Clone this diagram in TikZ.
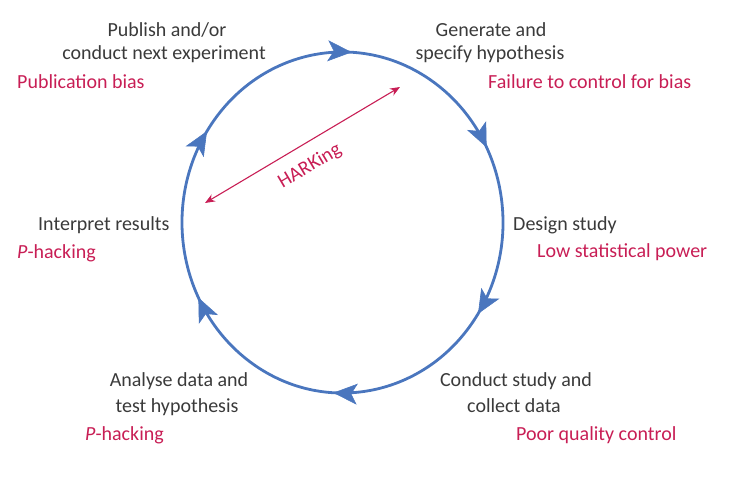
\documentclass[tikz,border=0pt]{standalone}
\usepackage{fontspec}
\setmainfont{Carlito}
\usetikzlibrary{arrows.meta,decorations.markings}
\definecolor{cycleblue}{RGB}{74,118,190}
\definecolor{biasred}{RGB}{200,30,85}
\definecolor{stagegray}{RGB}{58,58,58}
\begin{document}
\begin{tikzpicture}[x=1pt,y=1pt,
  stagetext/.style={text=stagegray, font=\fontsize{20}{24}\selectfont, inner sep=0pt, anchor=base},
  stageleft/.style={stagetext, anchor=base west},
  biastext/.style={text=biasred, font=\fontsize{20}{24}\selectfont, inner sep=0pt, anchor=base west},
  cycleline/.style={draw=cycleblue, color=cycleblue, line width=2.8pt,
    postaction=decorate,
    decoration={markings,
      mark=between positions 0.0833 and 0.99 step 0.16667 with
        {\arrow{Stealth[length=24pt,width=21pt,inset=6pt,line width=0.6pt]}}}},
  harkline/.style={draw=biasred, line width=1.1pt,
    {Stealth[length=10pt,width=8pt]}-{Stealth[length=10pt,width=8pt]}}
]
\useasboundingbox (0,0) rectangle (738,496);

\coordinate (ellc) at (342.5,273.5);
\draw[cycleline] (ellc) ++(56:160.5pt and 170.5pt)
  arc[start angle=56, end angle=-304, x radius=160.5pt, y radius=170.5pt];

% stages
\node[stagetext] (publish1) at (167,459) {Publish and/or};
\node[stagetext] (publish2) at (164,436) {conduct next experiment};
\node[biastext]  (pubbias)  at (17,407) {Publication bias};

\node[stagetext] (generate1) at (491,459) {Generate and};
\node[stagetext] (generate2) at (490,436) {specify hypothesis};
\node[biastext]  (failbias)  at (488,407) {Failure to control for bias};

\node[stageleft] (design)   at (513,266) {Design study};
\node[biastext]  (lowpower) at (537,239) {Low statistical power};

\node[stagetext] (conduct1) at (516,110) {Conduct study and};
\node[stagetext] (conduct2) at (514,84) {collect data};
\node[biastext]  (poorqc)   at (516,56) {Poor quality control};

\node[stagetext] (analyse1) at (179,110) {Analyse data and};
\node[stagetext] (analyse2) at (177,84) {test hypothesis};
\node[biastext]  (phack2)   at (85,56) {\textit{P}-hacking};

\node[stageleft] (interpret) at (38,266) {Interpret results};
\node[biastext]  (phack1)    at (17,238) {\textit{P}-hacking};

% HARKing
\coordinate (harkA) at (205,293);
\coordinate (harkB) at (400,409);
\draw[harkline] (harkA) -- node[pos=0.48, sloped, below=13pt, inner sep=0pt, text=biasred,
  font=\fontsize{20}{24}\selectfont] (harklabel) {HARKing} (harkB);
\end{tikzpicture}
\end{document}
